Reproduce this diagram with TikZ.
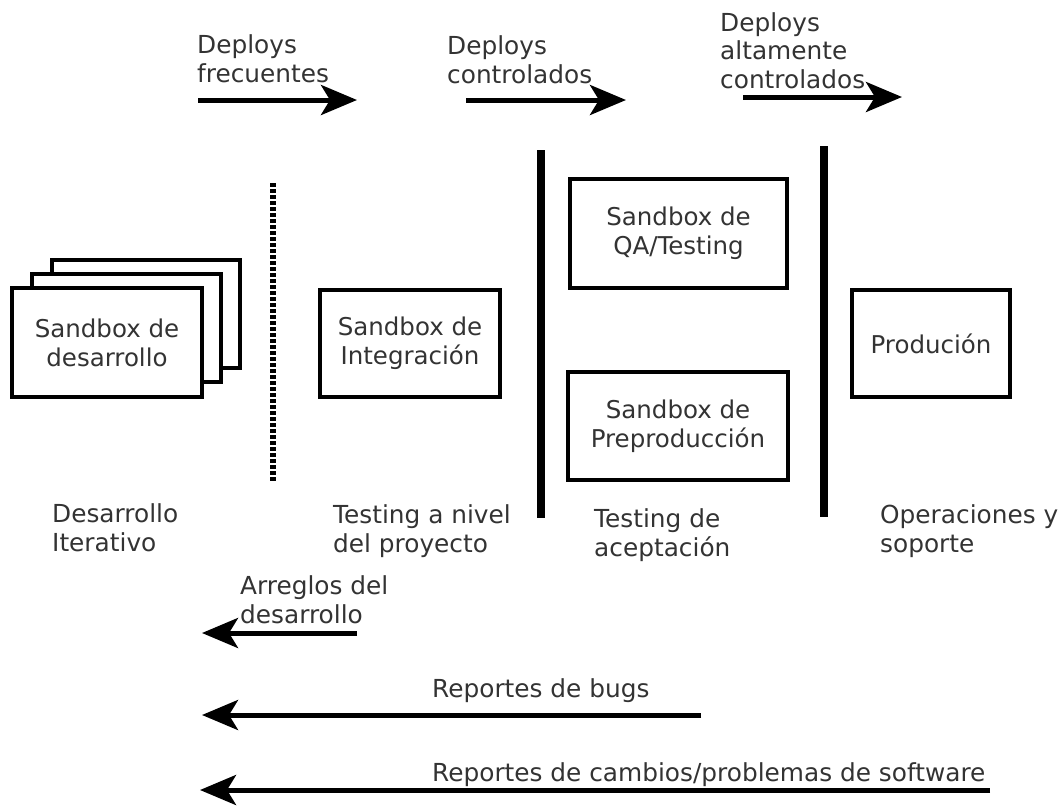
\documentclass[tikz,border=0pt]{standalone}
\usepackage{fontspec}
\setmainfont{DejaVu Sans}
\usetikzlibrary{arrows.meta}
\definecolor{ink}{HTML}{333333}
\begin{document}
\begin{tikzpicture}[x=1pt,y=-1pt,
  % labels are placed by the baseline of their last line
  txt/.style={font=\fontsize{24.8}{28.5}\selectfont, text=ink, inner sep=0pt, align=left, anchor=base west},
  boxtxt/.style={font=\fontsize{24.5}{29}\selectfont, text=ink, align=center},
  sbox/.style={draw=black, line width=3.5pt, fill=white},
  flow/.style={line width=5pt, -{Stealth[length=36pt, width=30pt, inset=9pt]}},
  divider/.style={line width=8.5pt},
  softdivider/.style={line width=6.5pt, dash pattern=on 3.5pt off 2.5pt}]
\useasboundingbox (0,0) rectangle (1058,807);

% stacked development sandboxes
\draw[sbox] (52,260) rectangle (240,368);
\draw[sbox] (32,274) rectangle (221,382);
\node[sbox, minimum width=190pt, minimum height=109pt, boxtxt] (dev) at (107,342.5) {Sandbox de\\desarrollo};

% other sandboxes
\node[sbox, minimum width=180pt, minimum height=107pt, boxtxt] (int) at (410,343.5) {Sandbox de\\Integración};
\node[sbox, minimum width=217pt, minimum height=109pt, boxtxt] (qa) at (678.5,233.5) {Sandbox de\\QA/Testing};
\node[sbox, minimum width=220pt, minimum height=108pt, boxtxt] (pre) at (678,426) {Sandbox de\\Preproducción};
\node[sbox, minimum width=158pt, minimum height=107pt, boxtxt] (prod) at (931,343.5) {Produción};

% stage dividers
\coordinate (d1t) at (273,183); \coordinate (d1b) at (273,481);
\coordinate (d2t) at (541,150); \coordinate (d2b) at (541,518);
\coordinate (d3t) at (824,146); \coordinate (d3b) at (824,517);
\draw[softdivider] (d1t) -- (d1b);
\draw[divider] (d2t) -- (d2b);
\draw[divider] (d3t) -- (d3b);

% forward deploy arrows
\coordinate (f1a) at (198,100); \coordinate (f1b) at (357,100);
\coordinate (f2a) at (466,100); \coordinate (f2b) at (626,100);
\coordinate (f3a) at (743,97);  \coordinate (f3b) at (902,97);
\draw[flow] (f1a) -- (f1b);
\draw[flow] (f2a) -- (f2b);
\draw[flow] (f3a) -- (f3b);
\node[txt] (lf1) at (197,82) {Deploys\\frecuentes};
\node[txt] (lf2) at (447,83) {Deploys\\controlados};
\node[txt] (lf3) at (720,88) {Deploys\\altamente\\controlados};

% stage captions
\node[txt] (s1) at (52,551) {Desarrollo\\Iterativo};
\node[txt] (s2) at (333,552) {Testing a nivel\\del proyecto};
\node[txt] (s3) at (594,556) {Testing de\\aceptación};
\node[txt] (s4) at (880,552) {Operaciones y\\soporte};

% feedback arrows
\coordinate (b1a) at (357,633); \coordinate (b1b) at (202,633);
\coordinate (b2a) at (701,715); \coordinate (b2b) at (202,715);
\coordinate (b3a) at (990,790); \coordinate (b3b) at (200,790);
\draw[flow] (b1a) -- (b1b);
\draw[flow] (b2a) -- (b2b);
\draw[flow] (b3a) -- (b3b);
\node[txt] (lb1) at (240,623) {Arreglos del\\desarrollo};
\node[txt] (lb2) at (432,697) {Reportes de bugs};
\node[txt] (lb3) at (432,781) {Reportes de cambios/problemas de software};
\end{tikzpicture}
\end{document}
